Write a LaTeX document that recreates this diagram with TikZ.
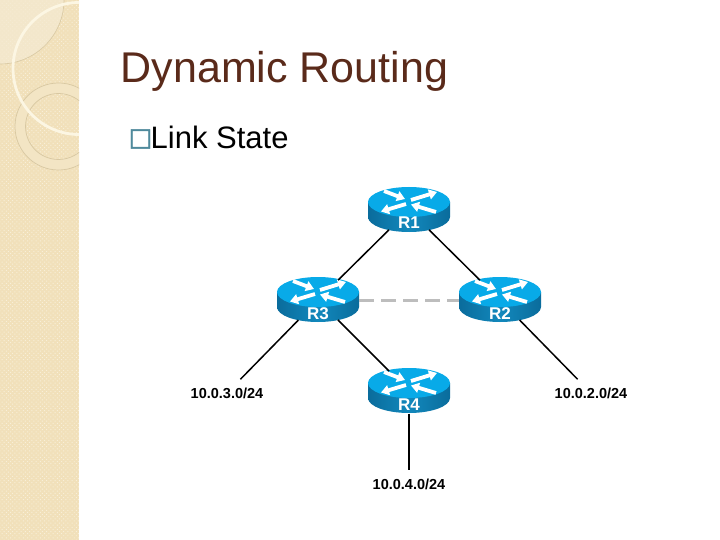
\documentclass[tikz,border=0pt]{standalone}
\usepackage{fontspec}
\setmainfont{Liberation Sans}
\newfontfamily\symfont[FakeBold=1.6]{DejaVu Sans}
\usetikzlibrary{shapes.geometric,arrows.meta,patterns.meta}
\definecolor{sidebar}{HTML}{F1E0BA}
\definecolor{sidedot}{HTML}{F8EFD8}
\definecolor{ringfill}{HTML}{F3E5C4}
\definecolor{ringline}{HTML}{D8C8A2}
\definecolor{cornerfill}{HTML}{F5EAD2}
\definecolor{swoosh}{HTML}{FCF6E3}
\definecolor{titlebrown}{HTML}{5A2A1A}
\definecolor{bullet}{HTML}{4F8A9C}
\definecolor{rtop}{HTML}{08AAE8}
\definecolor{rsideA}{HTML}{0A6C9C}
\definecolor{rsideB}{HTML}{1288BC}
\definecolor{dashgrey}{HTML}{BDBDBD}
\tikzset{
  routershape/.style={ellipse,minimum width=82pt,minimum height=45pt,inner sep=0pt,text=white,font=\fontsize{17}{17}\selectfont\bfseries},
  netlabel/.style={rectangle,minimum height=27pt,inner sep=0pt,font=\fontsize{14.5}{15}\selectfont\bfseries},
  wire/.style={draw=black,line width=1.5pt},
  backup/.style={draw=dashgrey,line width=3pt,dash pattern=on 15pt off 7pt},
  flow/.style={white,line width=3.8pt,-{Triangle[width=10pt,length=8pt]}},
  titletext/.style={anchor=base west,inner sep=0pt,text=titlebrown,font=\fontsize{43}{43}\selectfont},
  bodytext/.style={anchor=base west,inner sep=0pt,font=\fontsize{31}{31}\selectfont},
  bulletmark/.style={anchor=base west,inner sep=0pt,text=bullet,font=\fontsize{25}{25}\selectfont\symfont},
  routerart/.pic={
    \path[left color=rsideA,right color=rsideA,middle color=rsideB]
      (-41,0) -- (-41,15) arc[start angle=180,end angle=0,x radius=41,y radius=15] -- (41,0) -- cycle;
    \fill[rtop] (0,0) ellipse[x radius=41,y radius=15];
    \draw[flow] (-25,-11) -- (-4,-3);
    \draw[flow] (2,-2) -- (28,-10);
    \draw[flow] (-3,2) -- (-28,9.5);
    \draw[flow] (27,10) -- (2,2.5);
  }
}
\begin{document}
\begin{tikzpicture}[x=1pt,y=-1pt]
\useasboundingbox (0,0) rectangle (720,540);
\fill[white] (0,0) rectangle (720,540);
% sidebar
\begin{scope}
  \clip (0,0) rectangle (79,540);
  \fill[sidebar] (0,0) rectangle (79,540);
  \fill[pattern={Dots[distance=3pt,radius=0.7pt,angle=45]},pattern color=sidedot] (0,0) rectangle (79,540);
  \fill[cornerfill,fill opacity=0.75] (0,0) -- (64,0) arc[start angle=0,end angle=90,radius=64] -- cycle;
  \draw[ringline,line width=0.6pt] (64,0) arc[start angle=0,end angle=90,radius=64];
  \fill[ringfill,even odd rule] (58.5,126.5) circle[radius=43.5] (58.5,126.5) circle[radius=33];
  \draw[ringline,line width=0.7pt] (58.5,126.5) circle[radius=43.5];
  \draw[ringline,line width=0.7pt] (58.5,126.5) circle[radius=33];
  \draw[swoosh,line width=2.8pt] (79,68.5) circle[radius=66];
\end{scope}
% text
\node[titletext] (title) at (120.5,83) {Dynamic Routing};
\node[bulletmark] (mark) at (128.5,145.5) {□};
\node[bodytext] (item) at (150.5,149) {Link State};
% routers
\foreach \n/\t/\x/\y in {r1/R1/409/210,r2/R2/500/300,r3/R3/318/300,r4/R4/409/391}{
  \pic at (\x,\y-8) {routerart};
  \node[routershape] (\n) at (\x,\y) {\smash{\raisebox{-19pt}{\t}}};
}
% networks
\node[netlabel] (n3) at (227,393) {10.0.3.0/24};
\node[netlabel] (n2) at (591,393) {10.0.2.0/24};
\node[netlabel] (n4) at (409,484) {10.0.4.0/24};
% links
\draw[wire] (r1) -- (r3);
\draw[wire] (r1) -- (r2);
\draw[wire] (r3) -- (r4);
\draw[wire] (r3) -- (n3);
\draw[wire] (r2) -- (n2);
\draw[wire] (r4) -- (n4);
\draw[backup] (r3) -- (r2);
\end{tikzpicture}
\end{document}
